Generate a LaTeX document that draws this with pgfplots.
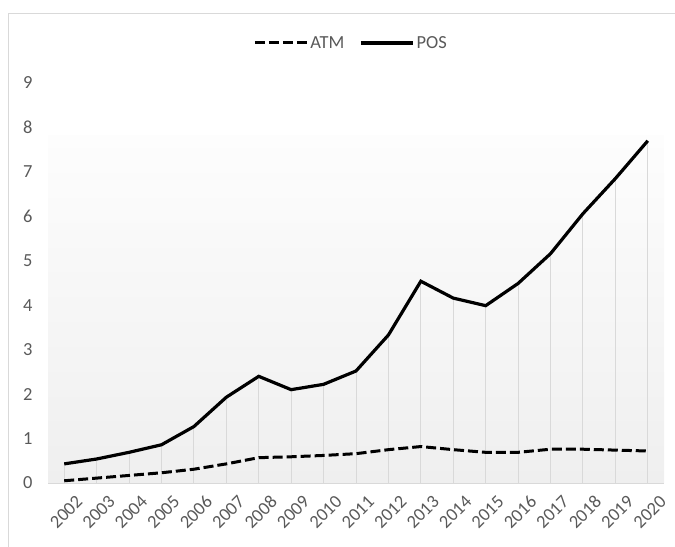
\documentclass[border=0pt]{standalone}
\usepackage{fontspec}
\setmainfont{Carlito}
\usepackage{pgfplots}
\usepackage{pgfplotstable}
\pgfplotsset{compat=1.18}
\definecolor{tickgray}{HTML}{595959}
\definecolor{linegray}{HTML}{D9D9D9}
\definecolor{bgtop}{HTML}{FDFDFD}
\definecolor{bgbot}{HTML}{EFEFEF}

\pgfplotstableread{
year val
2002 0.05
2003 0.11
2004 0.17
2005 0.23
2006 0.31
2007 0.43
2008 0.57
2009 0.59
2010 0.62
2011 0.66
2012 0.75
2013 0.82
2014 0.75
2015 0.69
2016 0.69
2017 0.76
2018 0.76
2019 0.74
2020 0.72
}\atm

\pgfplotstableread{
year val
2002 0.43
2003 0.54
2004 0.69
2005 0.86
2006 1.27
2007 1.93
2008 2.40
2009 2.10
2010 2.22
2011 2.52
2012 3.33
2013 4.54
2014 4.16
2015 3.99
2016 4.49
2017 5.16
2018 6.06
2019 6.85
2020 7.70
}\pos

\begin{document}
\begin{tikzpicture}
\clip (0bp,0bp) rectangle (675bp,547bp);
\draw[linegray, line width=1bp] (8bp,-5bp) rectangle (690bp,533bp);
\begin{axis}[
    at={(48bp,64bp)}, anchor=south west,
    scale only axis, width=616bp, height=400bp,
    xmin=2001.5, xmax=2020.5, ymin=0, ymax=9,
    xtick={2002,...,2020}, ytick={0,...,9},
    axis line style={draw=none},
    major tick length=0pt,
    tick label style={font=\fontsize{18.5}{22}\selectfont, text=tickgray},
    /pgf/number format/assume math mode=true,
    /pgf/number format/1000 sep={},
    xticklabel style={rotate=45, anchor=east, xshift=3bp, yshift=-22bp},
    yticklabel style={xshift=-12bp},
    clip=false,
    legend columns=2,
    legend style={at={(0.492,1.10)}, anchor=center, draw=none, fill=none,
        font=\fontsize{18.5}{22}\selectfont, text=tickgray,
        /tikz/every even column/.append style={column sep=13bp}},
    legend image code/.code={\draw[#1] (0bp,0bp) -- (52bp,0bp);},
]
\fill[top color=bgtop, bottom color=bgbot] (axis cs:2001.5,0) rectangle (axis cs:2020.5,7.82);
\draw[linegray, line width=1bp] (axis cs:2001.5,0) -- (axis cs:2020.5,0);
\addplot[ycomb, linegray, line width=1bp, forget plot] table[x=year, y=val] {\pos};
\addplot[black, line width=3bp, dash pattern=on 10bp off 4bp] table[x=year, y=val] {\atm};
\addplot[black, line width=3.2bp] table[x=year, y=val] {\pos};
\legend{ATM, POS}
\end{axis}
\end{tikzpicture}
\end{document}
